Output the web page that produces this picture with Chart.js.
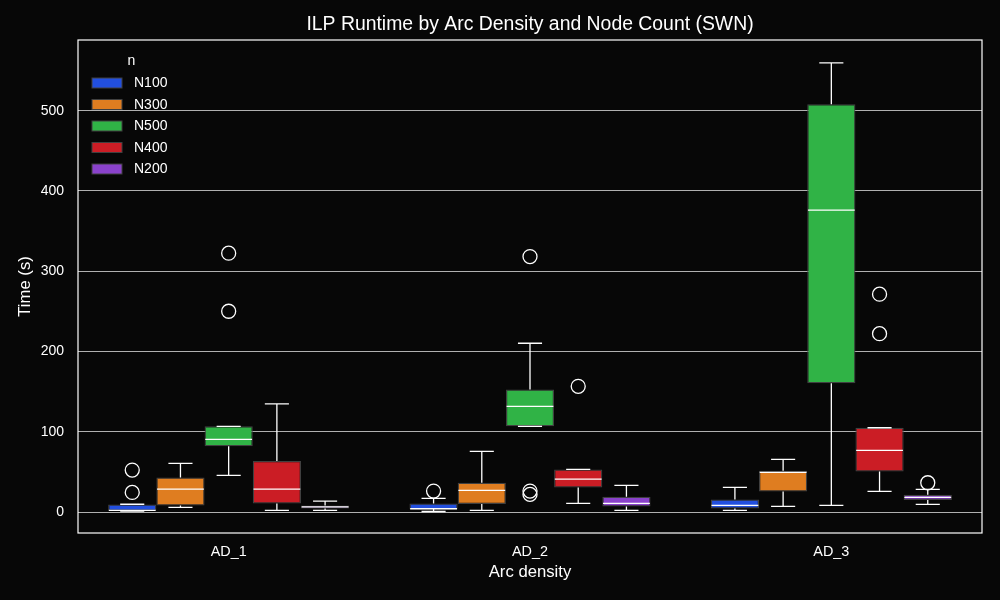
<!DOCTYPE html>
<html>
<head>
<meta charset="utf-8">
<script src="https://cdn.jsdelivr.net/npm/chart.js@4"></script>
<style>
  html, body { margin: 0; padding: 0; background: #070707; }
  canvas { display: block; }
</style>
</head>
<body>
<canvas id="c" width="1000" height="600"></canvas>
<script>
// ---- data ----
const categories = ['AD_1', 'AD_2', 'AD_3'];
const seriesNames = ['N100', 'N300', 'N500', 'N400', 'N200'];
const seriesColors = ['#224FDF', '#DF7D20', '#30B346', '#CB1D25', '#8A42CB'];
const yTickValues = [0, 100, 200, 300, 400, 500];
const chartTitle = 'ILP Runtime by Arc Density and Node Count (SWN)';

// per series (in seriesNames order), per category
const whiskerLow = [
  [1.2, 0.8, 2.1],
  [5.8, 2.1, 7.1],
  [45.7, 106.8, 8.3],
  [2.1, 10.8, 25.8],
  [2.1, 2.1, 9.6]
];
const quartile1 = [
  [1.6, 3.4, 4.6],
  [8.3, 10.0, 25.8],
  [81.9, 106.8, 160.5],
  [10.8, 30.8, 50.7],
  [4.6, 7.1, 15.0]
];
const medians = [
  [2.1, 4.2, 8.3],
  [28.7, 27.0, 49.5],
  [90.6, 131.7, 376.2],
  [28.7, 41.1, 76.9],
  [6.6, 10.8, 18.3]
];
const quartile3 = [
  [9.6, 10.8, 15.8],
  [43.2, 36.6, 51.5],
  [106.8, 152.6, 507.9],
  [63.6, 53.2, 105.1],
  [8.3, 19.1, 21.6]
];
const whiskerHigh = [
  [9.8, 17.1, 30.8],
  [60.7, 75.7, 65.7],
  [106.8, 210.3, 559.4],
  [134.7, 53.2, 105.1],
  [13.7, 33.3, 28.3]
];
const outliers = [
  [[52.4, 24.5], [26.2], []],
  [[], [], []],
  [[322.5, 250.2], [318.3, 26.2, 22.1], []],
  [[], [156.7], [271.4, 222.2]],
  [[], [], [36.6]]
];

const FONT = "'Liberation Sans', Arial, sans-serif";
const BG = '#070707';

const datasets = seriesNames.map((name, s) => ({
  label: name,
  data: categories.map((c, i) => [quartile1[s][i], quartile3[s][i]]),
  backgroundColor: seriesColors[s],
  borderColor: '#404040',
  borderWidth: 1.25,
  borderSkipped: false,
  categoryPercentage: 0.8,
  barPercentage: 1.0
}));

const bgPlugin = {
  id: 'bg',
  beforeDraw(chart) {
    const ctx = chart.ctx;
    ctx.save();
    ctx.fillStyle = BG;
    ctx.fillRect(0, 0, chart.width, chart.height);
    ctx.restore();
  }
};

const boxPlugin = {
  id: 'boxparts',
  afterDatasetsDraw(chart) {
    const ctx = chart.ctx;
    const y = chart.scales.y;
    ctx.save();
    ctx.strokeStyle = '#ffffff';
    ctx.lineWidth = 1.3;
    chart.data.datasets.forEach((ds, s) => {
      const meta = chart.getDatasetMeta(s);
      meta.data.forEach((el, i) => {
        const x = el.x;
        const w = el.width;
        const yq1 = y.getPixelForValue(quartile1[s][i]);
        const yq3 = y.getPixelForValue(quartile3[s][i]);
        const ylo = y.getPixelForValue(whiskerLow[s][i]);
        const yhi = y.getPixelForValue(whiskerHigh[s][i]);
        const ymed = y.getPixelForValue(medians[s][i]);
        ctx.beginPath();
        ctx.moveTo(x, yq3); ctx.lineTo(x, yhi);
        ctx.moveTo(x, yq1); ctx.lineTo(x, ylo);
        ctx.moveTo(x - w / 4, yhi); ctx.lineTo(x + w / 4, yhi);
        ctx.moveTo(x - w / 4, ylo); ctx.lineTo(x + w / 4, ylo);
        ctx.moveTo(x - w / 2 + 0.7, ymed); ctx.lineTo(x + w / 2 - 0.7, ymed);
        ctx.stroke();
        outliers[s][i].forEach(v => {
          ctx.beginPath();
          ctx.arc(x, y.getPixelForValue(v), 7, 0, Math.PI * 2);
          ctx.stroke();
        });
      });
    });
    ctx.restore();
  },
  afterDraw(chart) {
    const ctx = chart.ctx;
    const a = chart.chartArea;
    ctx.save();
    // frame
    ctx.strokeStyle = '#ffffff';
    ctx.lineWidth = 1.2;
    ctx.strokeRect(a.left, a.top, a.right - a.left, a.bottom - a.top);
    // title
    ctx.fillStyle = '#ffffff';
    ctx.font = '19.4px ' + FONT;
    ctx.textAlign = 'center';
    ctx.textBaseline = 'middle';
    ctx.fillText(chartTitle, (a.left + a.right) / 2, 25);
    // legend
    const lx = a.left + 14, ly = a.top + 43;
    ctx.font = '14px ' + FONT;
    ctx.fillText('n', lx + 39.5, a.top + 21);
    ctx.textAlign = 'left';
    chart.data.datasets.forEach((ds, s) => {
      const cy = ly + s * 21.5;
      ctx.fillStyle = ds.backgroundColor;
      ctx.fillRect(lx, cy - 5, 30, 10);
      ctx.strokeStyle = '#404040';
      ctx.lineWidth = 1;
      ctx.strokeRect(lx, cy - 5, 30, 10);
      ctx.fillStyle = '#ffffff';
      ctx.fillText(ds.label, lx + 42, cy + 0.5);
    });
    ctx.restore();
  }
};

new Chart(document.getElementById('c'), {
  type: 'bar',
  data: { labels: categories, datasets },
  options: {
    responsive: false,
    animation: false,
    layout: { padding: { left: 0, right: 18, top: 40, bottom: 0 } },
    plugins: {
      legend: { display: false },
      tooltip: { enabled: false },
      title: { display: false }
    },
    scales: {
      x: {
        type: 'category',
        offset: true,
        grid: { display: false, drawTicks: false },
        border: { display: false },
        ticks: { color: '#ffffff', font: { family: FONT, size: 14.4 }, padding: 10 },
        title: {
          display: true, text: 'Arc density', color: '#ffffff',
          font: { family: FONT, size: 16.7, lineHeight: 1.2 },
          padding: { top: 0, bottom: 17.7 }
        },
        afterFit(scale) { scale.height = 67; }
      },
      y: {
        min: -26,
        max: 588,
        grid: { color: '#b0b0b0', lineWidth: 1, drawTicks: false },
        border: { display: false },
        ticks: { color: '#ffffff', font: { family: FONT, size: 14 }, padding: 14, stepSize: 100 },
        afterBuildTicks(scale) { scale.ticks = yTickValues.map(v => ({ value: v })); },
        title: {
          display: true, text: 'Time (s)', color: '#ffffff',
          font: { family: FONT, size: 16.7, lineHeight: 1.2 },
          padding: { top: 15, bottom: 0 }
        },
        afterFit(scale) { scale.width = 78; }
      }
    }
  },
  plugins: [bgPlugin, boxPlugin]
});
</script>
</body>
</html>
